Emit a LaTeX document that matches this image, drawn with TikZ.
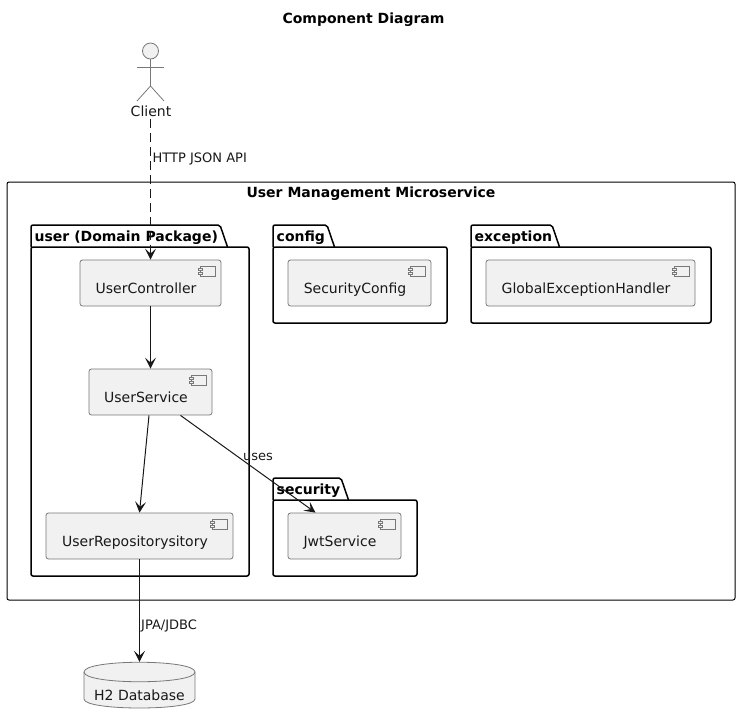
\documentclass[tikz,border=0pt]{standalone}
\usepackage{fontspec}
\setmainfont{DejaVu Sans}
\usetikzlibrary{arrows.meta, positioning}
\definecolor{mFill}{HTML}{F1F1F1}
\definecolor{mLine}{HTML}{181818}
\definecolor{mEdge}{HTML}{787878}
\newcommand{\pkgbox}[7]{%
  \draw[pkg] (#2,#3+22) -- (#2,#3) -- (#4,#3) -- (#4+7.5,#3+22);
  \draw[pkg] (#2,#3+22) rectangle (#5,#6);
  \node[pkglabel] (#1) at (#2+3.5,#3+16) {#7};
}
\begin{document}
\begin{tikzpicture}[x=1pt, y=-1pt,
      every node/.style={font=\fontsize{14}{16}\selectfont, text=mLine},
      comp/.style={draw=mEdge, line width=0.8pt, rounded corners=2.5pt, fill=mFill,
                   minimum height=46pt, inner sep=0pt, text height=20pt, text depth=0pt,
                   execute at end node={\hskip9pt},
                   path picture={
                     \draw[mEdge, line width=0.7pt, fill=mFill, sharp corners]
                       ([shift={(-20.5,6)}]path picture bounding box.north east) rectangle ++(15,10);
                     \draw[mEdge, line width=0.7pt, fill=mFill, sharp corners]
                       ([shift={(-22.5,8)}]path picture bounding box.north east) rectangle ++(4,2.5);
                     \draw[mEdge, line width=0.7pt, fill=mFill, sharp corners]
                       ([shift={(-22.5,12)}]path picture bounding box.north east) rectangle ++(4,2.5);
                   }},
      pkg/.style={black, line width=1.5pt, rounded corners=2pt},
      pkglabel/.style={anchor=base west, inner sep=0pt, text=black, font=\fontsize{14}{16}\selectfont\bfseries},
      conn/.style={mLine, line width=1pt, -{Stealth[length=11pt, width=11pt, inset=5pt]}},
      lbl/.style={anchor=base west, inner sep=0pt, font=\fontsize{13}{15}\selectfont},
      stick/.style={mEdge, line width=0.8pt}]
    \useasboundingbox (0,0) rectangle (740,724);
    \node[anchor=base, inner sep=0pt, text=black, font=\fontsize{14}{16}\selectfont\bfseries] (title) at (363.5,23) {Component Diagram};

    \draw[black, line width=1pt, rounded corners=2pt] (7,182) rectangle (735,600);
    \node[anchor=base, inner sep=0pt, text=black, font=\fontsize{14}{16}\selectfont\bfseries] (service) at (371,197) {User Management Microservice};

    \pkgbox{user}{31}{225}{220}{249}{576}{user (Domain Package)}
    \pkgbox{config}{273}{225}{327}{447}{323}{config}
    \pkgbox{exception}{471}{225}{552}{711}{323}{exception}
    \pkgbox{security}{273}{478}{341}{417}{576}{security}

    \node[comp, minimum width=141pt] (ctrl)   at (150.5,283)  {UserController};
    \node[comp, minimum width=123pt] (svc)    at (150.5,392)  {UserService};
    \node[comp, minimum width=187pt] (repo)   at (139.5,536)  {UserRepositorysitory};
    \node[comp, minimum width=143pt] (secfg)  at (359.5,283)  {SecurityConfig};
    \node[comp, minimum width=209pt] (handler) at (590.5,283) {GlobalExceptionHandler};
    \node[comp, minimum width=113pt] (jwt)    at (344.5,536)  {JwtService};

    \node[circle, draw=mEdge, line width=0.8pt, fill=mFill, minimum size=16pt, inner sep=0pt] (head) at (150.5,51) {};
    \coordinate (hip) at (150.5,86);
    \draw[stick] (head) -- (hip);
    \draw[stick] (137,67) -- (164,67);
    \draw[stick] (137,101) -- (hip) -- (164,101);
    \node[inner sep=0pt, anchor=base] (client) at (151,116) {Client};

    \draw[mEdge, line width=0.8pt, fill=mFill]
      (84,672) .. controls (84,659) and (195,659) .. (195,672)
      -- (195,699) .. controls (195,711) and (84,711) .. (84,699) -- cycle;
    \draw[mEdge, line width=0.8pt] (84,672) .. controls (84,685) and (195,685) .. (195,672);
    \node[minimum width=111pt, minimum height=46pt, inner sep=0pt, text height=30pt, text depth=0pt] (db) at (139.5,685) {H2 Database};

    \draw[conn, dash pattern=on 9pt off 5pt] ([yshift=-3pt]ctrl.north |- client.south) -- (ctrl.north);
    \draw[conn] (ctrl) -- (svc);
    \draw[conn] ([xshift=-1.5pt]svc.south) -- (repo.north);
    \draw[conn] ([xshift=30pt]svc.south) -- ([xshift=-29pt]jwt.north);
    \draw[conn] (repo.south) -- (db.north);

    \node[lbl] (httplbl) at (152.5,162) {HTTP JSON API};
    \node[lbl] (useslbl) at (243,460) {uses};
    \node[lbl] (jpalbl)  at (141,629) {JPA/JDBC};
\end{tikzpicture}
\end{document}
